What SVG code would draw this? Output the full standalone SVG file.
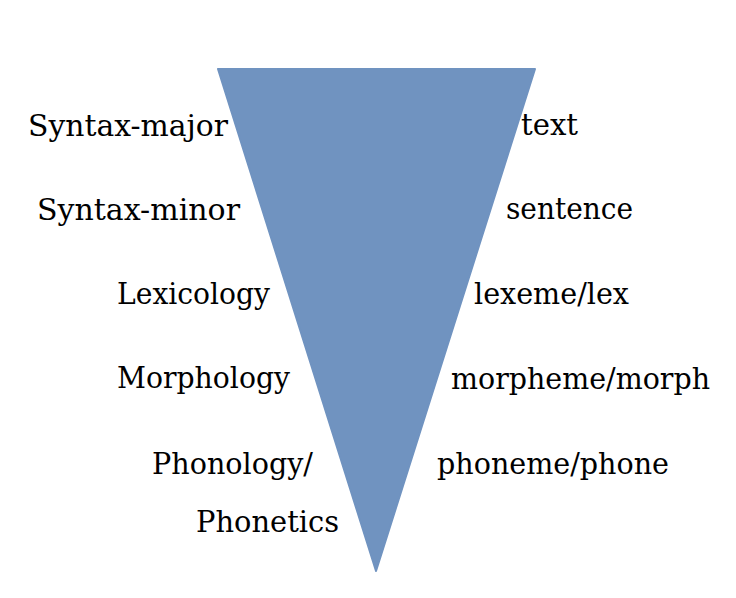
<svg xmlns="http://www.w3.org/2000/svg" width="736" height="598" viewBox="0 0 736 598">
<style>
.lbl{font-family:"DejaVu Serif","Liberation Serif",serif;font-size:30px;fill:#000;}
</style>
<rect width="736" height="598" fill="#fff"/>
<g id="triangle">
<polygon points="218,69 535,69 376,571" fill="#7093C0" stroke="#7093C0" stroke-width="2" stroke-linejoin="round"/>
</g>
<g id="connectors"></g>
<g id="left-labels">
<text id="l1" class="lbl" x="28" y="136" textLength="200" lengthAdjust="spacingAndGlyphs">Syntax-major</text>
<text id="l2" class="lbl" x="37" y="220" textLength="203" lengthAdjust="spacingAndGlyphs">Syntax-minor</text>
<text id="l3" class="lbl" x="117" y="304" textLength="153" lengthAdjust="spacingAndGlyphs">Lexicology</text>
<text id="l4" class="lbl" x="117" y="388" textLength="173" lengthAdjust="spacingAndGlyphs">Morphology</text>
<text id="l5" class="lbl" x="152" y="474" textLength="161" lengthAdjust="spacingAndGlyphs">Phonology/</text>
<text id="l6" class="lbl" x="196" y="532" textLength="143" lengthAdjust="spacingAndGlyphs">Phonetics</text>
</g>
<g id="right-labels">
<text id="r1" class="lbl" x="521" y="135" textLength="57" lengthAdjust="spacingAndGlyphs">text</text>
<text id="r2" class="lbl" x="506" y="219" textLength="127" lengthAdjust="spacingAndGlyphs">sentence</text>
<text id="r3" class="lbl" x="474" y="304" textLength="155" lengthAdjust="spacingAndGlyphs">lexeme/lex</text>
<text id="r4" class="lbl" x="451" y="389" textLength="259" lengthAdjust="spacingAndGlyphs">morpheme/morph</text>
<text id="r5" class="lbl" x="437" y="474" textLength="232" lengthAdjust="spacingAndGlyphs">phoneme/phone</text>
</g>
</svg>
